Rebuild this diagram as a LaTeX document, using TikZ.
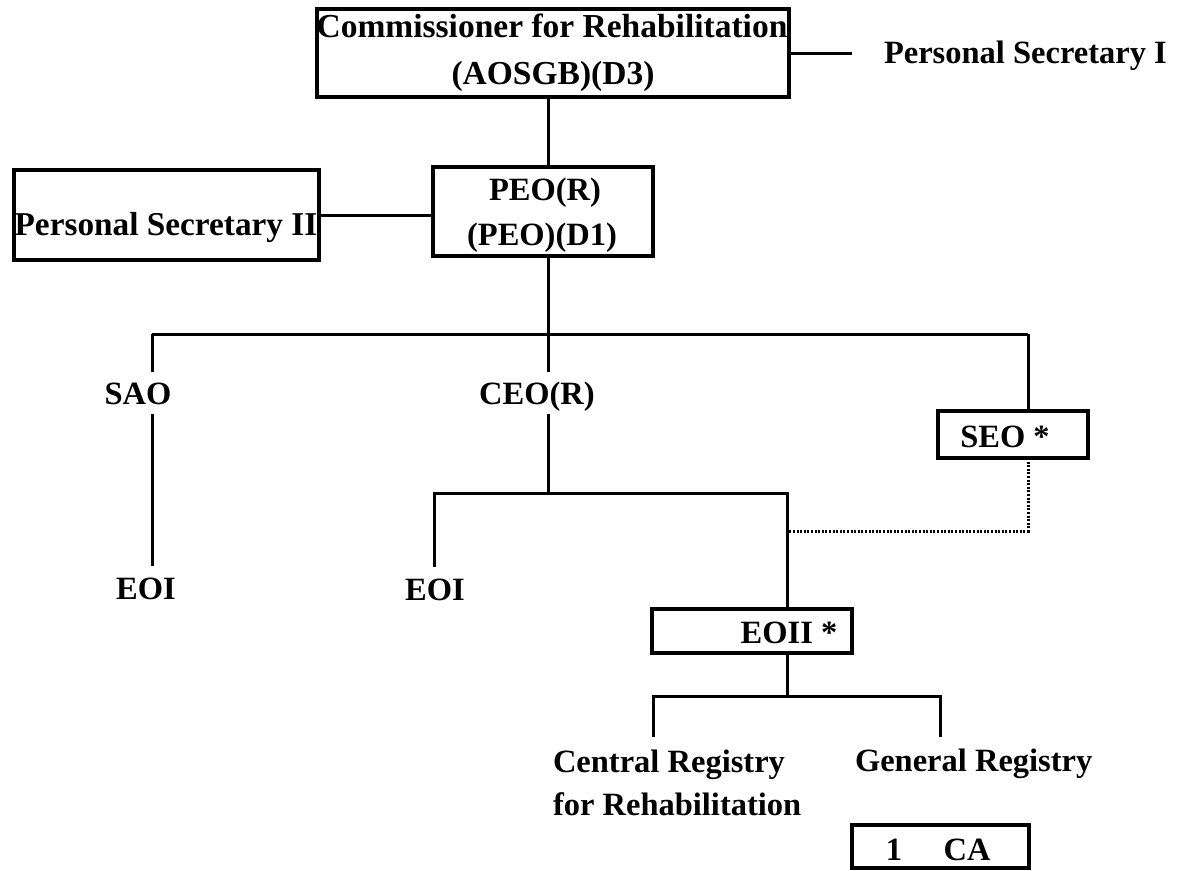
\documentclass[tikz,border=0pt]{standalone}
\usepackage{fontspec}
\setmainfont{Liberation Serif}
\begin{document}
\begin{tikzpicture}[x=1pt,y=-1pt,
  lbl/.style={font=\fontsize{32.5}{40}\selectfont\bfseries, inner sep=0pt, outer sep=0pt, anchor=base},
  biglbl/.style={lbl, font=\fontsize{33.5}{40}\selectfont\bfseries},
  box/.style={draw, line width=4pt, inner sep=0pt, outer sep=0pt},
  ln/.style={line width=3pt},
  dotln/.style={line width=3pt, dash pattern=on 2pt off 1.6pt}]
\useasboundingbox (0,0) rectangle (1180,870);

% boxes
\node[box, minimum width=472pt, minimum height=88pt] (comm) at (553,53) {};
\node[box, minimum width=220pt, minimum height=89pt] (peo) at (543,211.5) {};
\node[box, minimum width=305pt, minimum height=90pt] (ps2) at (166.5,215) {};
\node[box, minimum width=150pt, minimum height=47pt] (seo) at (1013,434.5) {};
\node[box, minimum width=200pt, minimum height=44pt] (eoii) at (752,631) {};
\node[box, minimum width=177pt, minimum height=43pt] (ca) at (940.5,846.5) {};

% texts
\node[biglbl] (comm1) at (552,37) {Commissioner for Rehabilitation};
\node[biglbl] (comm2) at (553,84) {(AOSGB)(D3)};
\node[lbl, anchor=base west] (ps1) at (884,63) {Personal Secretary I};
\node[lbl] (peo1) at (545,200) {PEO(R)};
\node[lbl] (peo2) at (542,245) {(PEO)(D1)};
\node[lbl, font=\fontsize{33.3}{40}\selectfont\bfseries] (ps2t) at (166,235) {Personal Secretary II};
\node[lbl] (sao) at (138,404) {SAO};
\node[lbl] (ceo) at (537,404) {CEO(R)};
\node[lbl] (seot) at (1005,447) {SEO *};
\node[lbl] (eoia) at (146,599) {EOI};
\node[lbl] (eoib) at (435,600) {EOI};
\node[lbl] (eoiit) at (789,643) {EOII *};
\node[lbl, anchor=base west] (cr1) at (553,772) {Central Registry};
\node[lbl, anchor=base west] (cr2) at (553,815) {for Rehabilitation};
\node[lbl, anchor=base west] (gr) at (855,771) {General Registry};
\node[lbl] (ca1) at (894,860) {1};
\node[lbl] (ca2) at (967,860) {CA};

% junction coordinates
\coordinate (ps1c) at (852,53);
\coordinate (b1L) at (152,334);
\coordinate (b1M) at (548,334);
\coordinate (b1R) at (1028,334);
\coordinate (saoTop) at (152,372);
\coordinate (saoBot) at (152,414);
\coordinate (eoiaTop) at (152,566);
\coordinate (ceoTop) at (548,372);
\coordinate (ceoBot) at (548,414);
\coordinate (b2M) at (548,493);
\coordinate (b2L) at (434,493);
\coordinate (b2R) at (787,493);
\coordinate (eoibTop) at (434,567);
\coordinate (dotC) at (1028,531);
\coordinate (dotL) at (789,531);
\coordinate (b3M) at (787,696);
\coordinate (b3L) at (653,696);
\coordinate (b3R) at (940,696);
\coordinate (crTop) at (653,737);
\coordinate (grTop) at (940,737);

% connectors
\draw[ln] (comm.east) -- (ps1c);
\draw[ln] (b1M |- comm.south) -- (b1M |- peo.north);
\draw[ln] (ps2.east) -- (ps2.east -| peo.west);
\draw[ln] (b1M |- peo.south) -- (b1M);
\draw[ln] (b1L) -- (b1R);
\draw[ln] (b1L) -- (saoTop);
\draw[ln] (saoBot) -- (eoiaTop);
\draw[ln] (b1M) -- (ceoTop);
\draw[ln] (ceoBot) -- (b2M);
\draw[ln] (eoibTop) -- (b2L) -- (b2R) -- (b2R |- eoii.north);
\draw[ln] (b1R) -- (b1R |- seo.north);
\draw[dotln] (seo.south -| dotC) -- (dotC) -- (dotL);
\draw[ln] (b3M |- eoii.south) -- (b3M);
\draw[ln] (crTop) -- (b3L) -- (b3R) -- (grTop);
\end{tikzpicture}
\end{document}
